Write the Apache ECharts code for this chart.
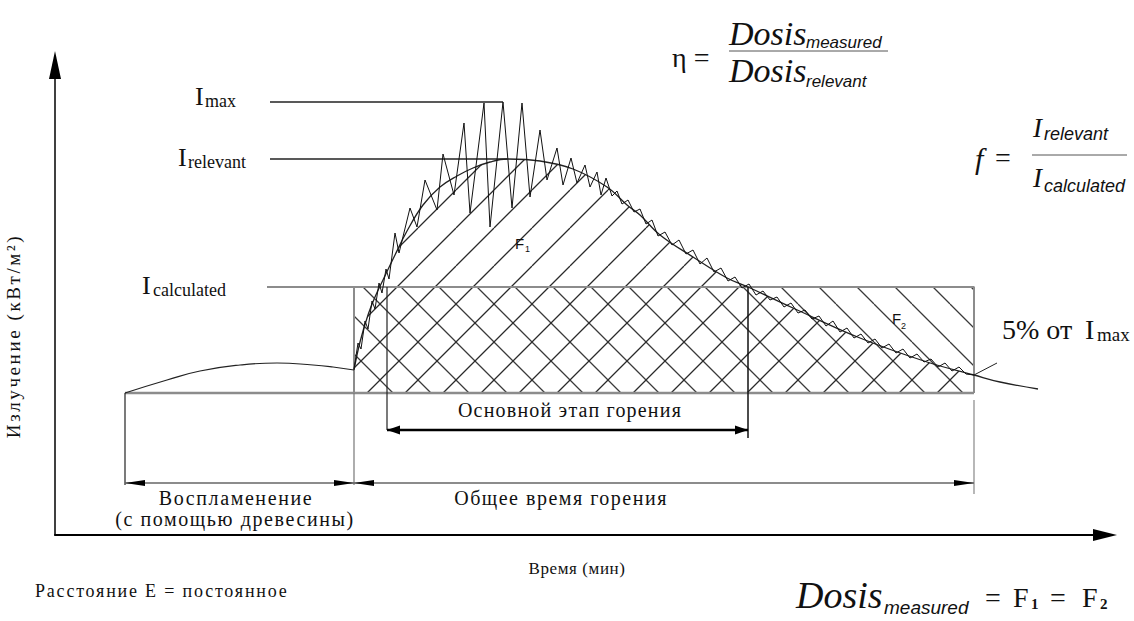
<!DOCTYPE html>
<html lang="ru">
<head>
<meta charset="utf-8">
<title>Излучение во времени</title>
<script src="https://cdn.jsdelivr.net/npm/echarts@6.0.0/dist/echarts.min.js"></script>
<style>
  html, body { margin: 0; padding: 0; background: #fff; }
  #chart { width: 1134px; height: 621px; }
</style>
</head>
<body>
<div id="chart"></div>
<script>
// Radiation of a burning fire over time (schematic units):
// x = time (min), y = radiation (kW/m²).

// Ignition phase (wood kindling), smooth bump
const ignitionCurve = [
  [7.0, 14.2], [11.2, 15.5], [14.5, 16.4], [18.5, 17.0], [22.2, 17.2],
  [25.8, 17.0], [27.8, 16.8], [29.9, 16.5]
];

// Relevant (smoothed) radiation curve
const relevantCurve = [
  [29.9, 16.5], [30.5, 19.3], [31.3, 22.0], [32.0, 23.8], [32.8, 25.5],
  [34.0, 28.0], [35.2, 30.4], [36.8, 33.0], [38.5, 34.8], [40.2, 35.9],
  [41.8, 36.7], [43.5, 37.3], [45.2, 37.6], [48.5, 37.4], [51.8, 36.6],
  [55.2, 34.8], [57.2, 33.0], [58.5, 32.0], [60.5, 30.0], [63.8, 27.8],
  [67.2, 25.7], [69.3, 24.8], [73.8, 22.7], [80.5, 19.7], [87.2, 17.3],
  [91.9, 16.0], [94.5, 15.3], [98.3, 14.6]
];

// Measured (fluctuating) radiation
const measuredCurve = [
  [29.9, 16.6], [30.3, 19.2], [30.6, 18.6], [31.0, 21.4], [31.3, 20.6],
  [31.7, 23.4], [32.0, 22.6], [32.4, 25.2], [32.7, 24.2], [33.1, 26.6],
  [33.4, 25.6], [34.0, 30.2], [34.4, 28.2], [35.5, 32.7], [36.2, 30.8],
  [37.0, 35.5], [38.2, 32.5], [38.8, 38.1], [39.9, 34.0], [40.9, 41.2],
  [41.5, 32.2], [42.9, 43.2], [43.5, 30.8], [44.8, 43.3], [45.7, 32.7],
  [46.7, 43.2], [47.5, 33.8], [48.5, 40.5], [49.2, 35.5], [50.2, 38.7],
  [50.8, 35.0], [51.6, 37.7], [52.2, 35.2], [53.0, 37.0], [53.5, 34.8],
  [54.2, 36.3], [54.6, 34.0], [55.1, 35.7], [55.7, 33.9], [56.2, 34.4],
  [56.7, 33.1], [57.3, 33.5], [57.9, 32.3], [58.5, 32.6], [59.1, 31.1],
  [59.7, 31.5], [60.3, 29.9], [61.0, 30.3], [61.7, 29.0], [62.4, 29.5],
  [63.1, 28.1], [63.8, 28.5], [64.5, 27.1], [65.2, 27.7], [65.9, 26.3],
  [66.6, 26.7], [67.3, 25.4], [68.0, 25.8], [68.7, 24.7], [69.4, 25.1],
  [70.1, 24.0], [70.8, 24.4], [71.5, 23.5], [72.2, 23.8], [72.9, 22.8],
  [73.6, 23.2], [74.3, 22.2], [75.0, 22.5], [75.7, 21.6], [76.4, 21.9],
  [77.1, 20.9], [77.8, 21.4], [78.5, 20.3], [79.2, 20.7], [79.9, 19.7],
  [80.6, 20.1], [81.3, 19.2], [82.0, 19.6], [82.7, 18.7], [83.4, 19.1],
  [84.1, 18.2], [84.8, 18.6], [85.5, 17.7], [86.2, 18.1], [86.9, 17.3],
  [87.6, 17.6], [88.3, 16.8], [89.0, 17.2], [89.7, 16.4], [90.4, 16.8],
  [91.1, 16.1], [91.9, 16.0]
];

// Radiation levels
const baseLevel = 14.2;
const iMax = 43.3;
const iRelevant = 37.6;
const iCalculated = 24.8;
const leaderStart = 21.5;

// Time marks
const ignitionStart = 7.0;
const burnStart = 29.9;
const mainStart = 33.2;
const mainEnd = 69.3;
const burnEnd = 91.9;
const iMaxTime = 44.8;
const iRelevantTime = 45.2;
const fivePercentTick = [[91.9, 16.0], [94.2, 17.2]];

// Dimension arrows (time spans) and their heights
const mainLevel = 10.5;
const spanLevel = 5.2;
const mainSpans = [[mainStart, mainEnd]];
const phaseSpans = [[ignitionStart, burnStart], [burnStart, burnEnd]];

const SERIF = '"Liberation Serif", "Times New Roman", Times, serif';
const SANS = '"Liberation Sans", Arial, Helvetica, sans-serif';

// Repeating diagonal hatch tile: dir 1 = "/", dir -1 = "\"
function hatchTile(dir, size, color, width) {
  const c = document.createElement('canvas');
  c.width = size; c.height = size;
  const g = c.getContext('2d');
  g.strokeStyle = color; g.lineWidth = width;
  g.beginPath();
  [-size, 0, size].forEach(o => {
    if (dir > 0) { g.moveTo(o, size); g.lineTo(o + size, 0); }
    else { g.moveTo(o, 0); g.lineTo(o + size, size); }
  });
  g.stroke();
  return c;
}
const forwardHatch = { image: hatchTile(1, 38, '#2a2a2a', 1.3), repeat: 'repeat' };
const backHatch = { image: hatchTile(-1, 38, '#3a3a3a', 1.3), repeat: 'repeat' };

function segment(name, points, color, width, z) {
  return {
    type: 'line', name, data: points, symbol: 'none', silent: true,
    lineStyle: { color, width }, z: z || 3
  };
}

function arrowSeries(name, spans, level, color, lineWidth, headLen, headWidth) {
  return {
    type: 'custom', name, silent: true, z: 5,
    data: spans.map(s => [s[0], level, s[1], level]),
    encode: { x: [0, 2], y: [1, 3] },
    renderItem: (params, api) => {
      const a = api.coord([api.value(0), api.value(1)]);
      const b = api.coord([api.value(2), api.value(3)]);
      const dx = b[0] - a[0], dy = b[1] - a[1];
      const L = Math.hypot(dx, dy) || 1, ux = dx / L, uy = dy / L;
      const head = (tip, dir) => ({
        type: 'polygon',
        shape: { points: [
          tip,
          [tip[0] - dir * ux * headLen - uy * headWidth / 2, tip[1] - dir * uy * headLen + ux * headWidth / 2],
          [tip[0] - dir * ux * headLen + uy * headWidth / 2, tip[1] - dir * uy * headLen - ux * headWidth / 2]
        ] },
        style: { fill: '#000' }
      });
      return {
        type: 'group',
        children: [
          { type: 'line', shape: { x1: a[0], y1: a[1], x2: b[0], y2: b[1] }, style: { stroke: color, lineWidth } },
          head(a, -1), head(b, 1)
        ]
      };
    }
  };
}

function txt(x, y, text, size, o) {
  o = o || {};
  const font = (o.italic ? 'italic ' : '') + (o.bold ? 'bold ' : '') + size + 'px ' + (o.family || SERIF);
  const align = o.align || 'left';
  return {
    type: 'text', x, y, silent: true, z: 10,
    style: { text, font, fill: o.color || '#111', align, textAlign: align, verticalAlign: 'middle', textVerticalAlign: 'middle' }
  };
}
function bar(x1, x2, y) {
  return { type: 'line', silent: true, z: 10, shape: { x1, y1: y, x2, y2: y }, style: { stroke: '#555', lineWidth: 1 } };
}

const chart = echarts.init(document.getElementById('chart'), null, { renderer: 'svg', width: 1134, height: 621 });

// Wider tracking for the Cyrillic captions
const tracking = {
  'Воспламенение': 1.6, '(с помощью древесины)': 1.6, 'Общее время горения': 1.5,
  'Основной этап горения': 1.2, 'Излучение (кВт/м²)': 2.6, 'Время (мин)': 0.6,
  'Расстояние E = постоянное': 1.8
};
function applyTracking() {
  document.querySelectorAll('#chart svg text').forEach(t => {
    const s = tracking[t.textContent];
    if (s != null) t.setAttribute('letter-spacing', s + 'px');
  });
}
chart.on('finished', applyTracking);

const axisCommon = {
  type: 'value', min: 0,
  axisTick: { show: false }, axisLabel: { show: false }, splitLine: { show: false },
  nameLocation: 'middle'
};

chart.setOption({
  animation: false,
  backgroundColor: '#fff',
  grid: { left: 55, right: 29, top: 65, bottom: 86, containLabel: false, outerBoundsMode: 'none' },
  xAxis: Object.assign({}, axisCommon, {
    max: 105,
    name: 'Время (мин)', nameGap: 25,
    nameTextStyle: { fontFamily: SERIF, fontSize: 17, color: '#111', padding: [0, 6, 0, 0] },
    axisLine: { onZero: false, symbol: ['none', 'triangle'], symbolSize: [12, 24], lineStyle: { color: '#000', width: 2 } }
  }),
  yAxis: Object.assign({}, axisCommon, {
    max: 47,
    name: 'Излучение (кВт/м²)', nameGap: 32, nameRotate: 90,
    nameTextStyle: { fontFamily: SERIF, fontSize: 19, color: '#111', padding: [0, 72, 0, 0] },
    axisLine: { onZero: false, symbol: ['none', 'triangle'], symbolSize: [12, 28], lineStyle: { color: '#000', width: 1.5 } }
  }),
  series: [
    // F2: rectangle at the calculated level over the total burn time
    {
      type: 'line', name: 'F2', silent: true, symbol: 'none', z: 1,
      data: [[burnStart, iCalculated], [burnEnd, iCalculated]],
      lineStyle: { width: 0, opacity: 0 },
      areaStyle: { origin: baseLevel, color: backHatch, opacity: 1 }
    },
    // F1: area below the relevant curve
    {
      type: 'line', name: 'F1', silent: true, symbol: 'none', z: 1, smooth: 0.4,
      data: relevantCurve.filter(p => p[0] <= burnEnd),
      lineStyle: { width: 0, opacity: 0 },
      areaStyle: { origin: baseLevel, color: forwardHatch, opacity: 1 }
    },
    // frame of F2 and time base line
    segment('base', [[ignitionStart, baseLevel], [burnEnd, baseLevel]], '#8c8c8c', 2.5, 2),
    segment('frame', [[burnStart, baseLevel], [burnStart, iCalculated], [burnEnd, iCalculated], [burnEnd, baseLevel]], '#8c8c8c', 2, 2),
    // level leaders
    segment('I_max', [[leaderStart, iMax], [iMaxTime, iMax]], '#222', 1.3),
    segment('I_relevant', [[leaderStart, iRelevant], [iRelevantTime, iRelevant]], '#222', 1.3),
    segment('I_calculated', [[leaderStart - 0.3, iCalculated], [burnStart, iCalculated]], '#8c8c8c', 2, 2),
    // vertical time marks
    segment('t0', [[ignitionStart, baseLevel], [ignitionStart, spanLevel - 0.2]], '#222', 1.2),
    segment('t1', [[burnStart, baseLevel], [burnStart, spanLevel - 0.2]], '#777', 1.2),
    segment('t2', [[mainStart, iCalculated], [mainStart, mainLevel]], '#222', 1.2),
    segment('t3', [[mainEnd, iCalculated], [mainEnd, mainLevel - 0.8]], '#111', 1.5),
    segment('t4', [[burnEnd, baseLevel - 0.7], [burnEnd, spanLevel - 1.1]], '#888', 1.2),
    // curves
    {
      type: 'line', name: 'ignition', silent: true, symbol: 'none', smooth: 0.5, z: 4,
      data: ignitionCurve, lineStyle: { color: '#222', width: 1.2 }
    },
    {
      type: 'line', name: 'I_relevant curve', silent: true, symbol: 'none', smooth: 0.4, z: 4,
      data: relevantCurve, lineStyle: { color: '#222', width: 1.3 }
    },
    {
      type: 'line', name: 'measured', silent: true, symbol: 'none', z: 4,
      data: measuredCurve, lineStyle: { color: '#111', width: 1 }
    },
    segment('5% tick', fivePercentTick, '#222', 1, 4),
    // dimension arrows
    arrowSeries('main stage', mainSpans, mainLevel, '#000', 2.5, 13, 9),
    arrowSeries('phases', phaseSpans, spanLevel, '#666', 1.3, 20, 6)
  ],
  graphic: [
    // level labels
    txt(195, 96, 'I', 26), txt(205, 101, 'max', 18),
    txt(178, 157, 'I', 26), txt(188, 162, 'relevant', 18),
    txt(142, 285, 'I', 26), txt(153, 290, 'calculated', 18),
    // areas
    txt(515, 243, 'F', 15, { family: SANS }), txt(525, 249, '1', 9, { family: SANS }),
    txt(892, 318, 'F', 15, { family: SANS }), txt(901, 326, '2', 9, { family: SANS }),
    // 5 % of the peak
    txt(1002, 329, '5% от', 28), txt(1085, 329, 'I', 28), txt(1097, 334, 'max', 19),
    // phase captions
    txt(570, 410, 'Основной этап горения', 20, { align: 'center' }),
    txt(236, 498, 'Воспламенение', 20, { align: 'center' }),
    txt(235, 519, '(с помощью древесины)', 20, { align: 'center' }),
    txt(561, 498, 'Общее время горения', 20, { align: 'center' }),
    // notes
    txt(35, 591, 'Расстояние E = постоянное', 18),
    // η = Dosis_measured / Dosis_relevant
    txt(672, 57, 'η =', 28),
    txt(729, 33, 'Dosis', 34, { italic: true }), txt(806, 42, 'measured', 17, { italic: true, family: SANS }),
    bar(729, 888, 51),
    txt(729, 70, 'Dosis', 34, { italic: true }), txt(806, 81, 'relevant', 17, { italic: true, family: SANS }),
    // f = I_relevant / I_calculated
    txt(975, 158, 'f', 30, { italic: true }), txt(995, 157, '=', 28),
    txt(1033, 128, 'I', 27, { italic: true }), txt(1044, 134, 'relevant', 18, { italic: true, family: SANS }),
    bar(1032, 1127, 155),
    txt(1033, 178, 'I', 27, { italic: true }), txt(1044, 186, 'calculated', 18, { italic: true, family: SANS }),
    // Dosis_measured = F1 = F2
    txt(796, 595, 'Dosis', 38, { italic: true }), txt(884, 607, 'measured', 19, { italic: true, family: SANS }),
    txt(985, 597, '=', 28), txt(1013, 597, 'F', 28), txt(1031, 604, '1', 15, { bold: true }),
    txt(1050, 597, '=', 28), txt(1082, 597, 'F', 28), txt(1100, 604, '2', 15, { bold: true })
  ]
});
applyTracking();
setTimeout(applyTracking, 50);
</script>
</body>
</html>
